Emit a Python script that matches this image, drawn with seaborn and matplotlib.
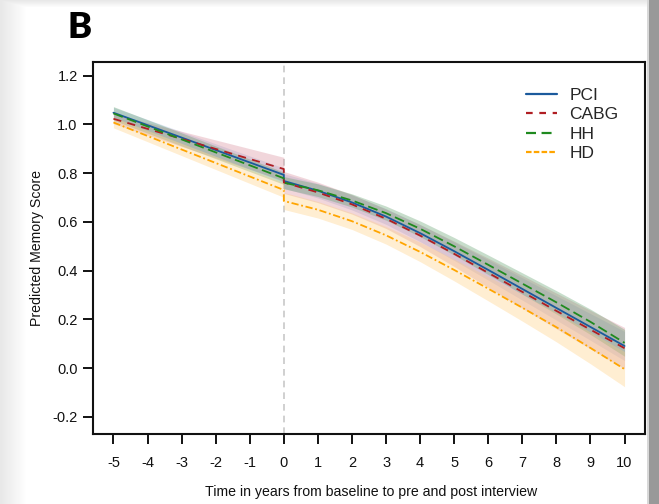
import numpy as np
import pandas as pd
import matplotlib
matplotlib.use("Agg")
import matplotlib.pyplot as plt
import seaborn as sns
from matplotlib.lines import Line2D

# ---------------- data ----------------
groups = ["PCI", "CABG", "HH", "HD"]
pre_years = [-5, 0]
post_years = [0, 1, 2, 3, 4, 5, 6, 7, 8, 9, 10]
x_ticks = list(range(-5, 11))
y_ticks = [-0.2, 0.0, 0.2, 0.4, 0.6, 0.8, 1.0, 1.2]

pre_PCI = [1.048, 0.793]
pre_CABG = [1.023, 0.817]
pre_HH = [1.045, 0.779]
pre_HD = [1.008, 0.731]

post_PCI = [0.768, 0.728, 0.680, 0.622, 0.554, 0.480, 0.403, 0.325, 0.247, 0.169, 0.091]
post_CABG = [0.762, 0.721, 0.672, 0.613, 0.544, 0.469, 0.391, 0.313, 0.235, 0.158, 0.082]
post_HH = [0.761, 0.730, 0.688, 0.636, 0.572, 0.500, 0.424, 0.347, 0.270, 0.190, 0.104]
post_HD = [0.686, 0.650, 0.603, 0.545, 0.477, 0.403, 0.326, 0.248, 0.168, 0.083, -0.004]

# half widths of the confidence bands
pre_hw_PCI = [0.022, 0.028]
pre_hw_CABG = [0.020, 0.048]
pre_hw_HH = [0.028, 0.025]
pre_hw_HD = [0.022, 0.030]

post_hw_PCI = [0.030, 0.030, 0.031, 0.032, 0.035, 0.038, 0.042, 0.046, 0.050, 0.055, 0.060]
post_hw_CABG = [0.045, 0.042, 0.040, 0.040, 0.045, 0.052, 0.060, 0.067, 0.073, 0.079, 0.085]
post_hw_HH = [0.025, 0.026, 0.027, 0.029, 0.032, 0.036, 0.040, 0.044, 0.048, 0.052, 0.055]
post_hw_HD = [0.035, 0.034, 0.034, 0.036, 0.040, 0.045, 0.050, 0.055, 0.060, 0.065, 0.072]

pre_vals = {"PCI": pre_PCI, "CABG": pre_CABG, "HH": pre_HH, "HD": pre_HD}
post_vals = {"PCI": post_PCI, "CABG": post_CABG, "HH": post_HH, "HD": post_HD}
pre_hw = {"PCI": pre_hw_PCI, "CABG": pre_hw_CABG, "HH": pre_hw_HH, "HD": pre_hw_HD}
post_hw = {"PCI": post_hw_PCI, "CABG": post_hw_CABG, "HH": post_hw_HH, "HD": post_hw_HD}

colors = {"PCI": "#1b5a9c", "CABG": "#b01e23", "HH": "#1f8a1f", "HD": "#ffa500"}
band_colors = {"PCI": "#9fb6e0", "CABG": "#d98c9a", "HH": "#5f9f6a", "HD": "#ffcf7f"}
dashes = {"PCI": "", "CABG": (4.5, 3.5), "HH": (5.5, 2.5), "HD": (4, 1.5, 1, 1.5)}
legend_dashes = {"PCI": None, "CABG": (3, 3), "HH": (4.5, 2.5), "HD": (2.5, 1)}

rows = []
for g in groups:
    for t, v in zip(pre_years, pre_vals[g]):
        rows.append({"group": g, "time": t, "score": v})
    for t, v in zip(post_years, post_vals[g]):
        rows.append({"group": g, "time": t, "score": v})
df = pd.DataFrame(rows)

# ---------------- figure ----------------
sns.set_theme(style="ticks")
plt.rcParams["font.family"] = ["Liberation Sans", "DejaVu Sans"]

W, H = 659, 504
fig = plt.figure(figsize=(W / 100, H / 100), dpi=100)
fig.patch.set_facecolor("white")

# background frame (page shadow)
bg = np.ones((H, W, 3))
xs = np.arange(W)
ys = np.arange(H)
shade_l = 0.91 + 0.09 * np.clip(xs / 26.0, 0, 1)
shade_t = 0.91 + 0.09 * np.clip(ys / 7.0, 0, 1)
bg *= np.minimum(shade_l[None, :], shade_t[:, None])[:, :, None]
bg[:, 649:, :] = 0.60
bg[:, 647:649, :] = 0.85
bax = fig.add_axes([0, 0, 1, 1], zorder=-5)
bax.imshow(bg, aspect="auto", extent=(0, W, H, 0), interpolation="bilinear")
bax.set_axis_off()

ax_l, ax_r, ax_t, ax_b = 93, 645, 62, 434
ax = fig.add_axes([ax_l / W, 1 - ax_b / H, (ax_r - ax_l) / W, (ax_b - ax_t) / H])
ax.set_facecolor("white")

# bands
for g in groups:
    lo = np.array(pre_vals[g]) - np.array(pre_hw[g])
    hi = np.array(pre_vals[g]) + np.array(pre_hw[g])
    ax.fill_between(pre_years, lo, hi, color=band_colors[g], alpha=0.35, lw=0, zorder=1)
    lo = np.array(post_vals[g]) - np.array(post_hw[g])
    hi = np.array(post_vals[g]) + np.array(post_hw[g])
    ax.fill_between(post_years, lo, hi, color=band_colors[g], alpha=0.35, lw=0, zorder=1)

ax.axvline(0, color="#c8c8c8", lw=1.2, ls=(0, (4, 3)), zorder=0.5)

sns.lineplot(data=df, x="time", y="score", hue="group", style="group",
             palette=colors, dashes=dashes, estimator=None, sort=False,
             units="group", lw=1.3, ax=ax, legend=False, zorder=3)

ax.set_xlim(-5.6, 10.6)
ax.set_ylim(-0.27, 1.256)
ax.set_xticks(x_ticks)
ax.set_xticklabels([str(v) for v in x_ticks])
ax.set_yticks(y_ticks)
ax.set_yticklabels([f"{v:.1f}" for v in y_ticks])

for s in ax.spines.values():
    s.set_visible(True)
    s.set_color("#111111")
    s.set_linewidth(1.5)
ax.tick_params(axis="both", direction="out", length=7, width=1.4, color="#111111",
               labelsize=10.5, labelcolor="#111111")
ax.tick_params(axis="x", pad=9)
ax.tick_params(axis="y", pad=4)

ax.set_xlabel("Time in years from baseline to pre and post interview", fontsize=10.2, color="#111111")
ax.set_ylabel("Predicted Memory Score", fontsize=10.2, color="#111111")
ax.xaxis.set_label_coords((371 - ax_l) / (ax_r - ax_l), (ax_b - 485) / (ax_b - ax_t))
ax.yaxis.set_label_coords((44 - ax_l) / (ax_r - ax_l), 0.5)

handles = []
for g in groups:
    if legend_dashes[g] is None:
        h = Line2D([], [], color=colors[g], lw=1.6)
    else:
        h = Line2D([], [], color=colors[g], lw=1.6, dashes=legend_dashes[g])
    handles.append(h)
ax.legend(handles, groups, loc="upper left",
          bbox_to_anchor=((526 - ax_l) / (ax_r - ax_l), (ax_b - 88) / (ax_b - ax_t)),
          frameon=False, fontsize=12.5, handlelength=1.8, handletextpad=0.7,
          labelspacing=0.24, borderpad=0, borderaxespad=0)

fig.text(67 / W, 1 - 27 / H, "B", fontsize=26, fontweight="heavy",
         family=["Lato", "DejaVu Sans"], ha="left", va="center", color="black")

fig.savefig("out.png", dpi=100, facecolor=fig.get_facecolor())
